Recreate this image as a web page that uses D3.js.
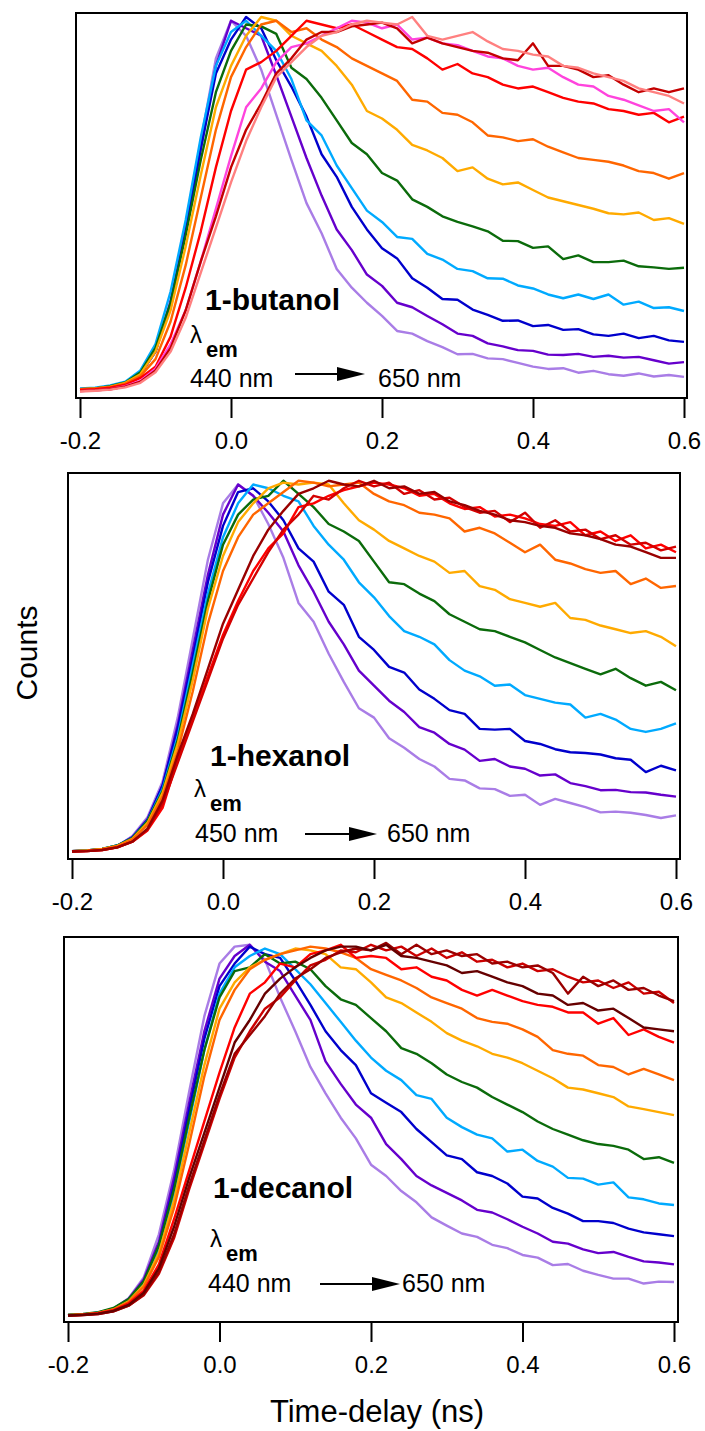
<!DOCTYPE html>
<html>
<head>
<meta charset="utf-8">
<script src="https://cdn.jsdelivr.net/npm/d3@7"></script>
<style>
  body { margin: 0; background: #fff; }
  svg { display: block; font-family: Arial, "Liberation Sans", sans-serif; }
</style>
</head>
<body>
<div id="chart"></div>
<script>
// time axis shared by every trace (ns)
const timeDelay = [-0.20, -0.18, -0.16, -0.14, -0.12, -0.10, -0.08, -0.06, -0.04, -0.02,
  0.00, 0.02, 0.04, 0.06, 0.08, 0.10, 0.12, 0.14, 0.16, 0.18,
  0.20, 0.22, 0.24, 0.26, 0.28, 0.30, 0.32, 0.34, 0.36, 0.38,
  0.40, 0.42, 0.44, 0.46, 0.48, 0.50, 0.52, 0.54, 0.56, 0.58, 0.60]

const xTicks = [-0.2, 0.0, 0.2, 0.4, 0.6]

// normalised counts, short wavelength (fast decay) first, long wavelength last
const butanolCounts = [
  [0.010, 0.010, 0.015, 0.025, 0.050, 0.110, 0.250, 0.450, 0.670, 0.890, 0.990, 0.950, 0.860, 0.740, 0.620, 0.505, 0.425, 0.330, 0.280, 0.240, 0.205, 0.165, 0.158, 0.138, 0.122, 0.103, 0.104, 0.092, 0.090, 0.080, 0.070, 0.064, 0.066, 0.054, 0.059, 0.050, 0.046, 0.052, 0.044, 0.048, 0.043],
  [0.010, 0.012, 0.016, 0.026, 0.050, 0.110, 0.240, 0.440, 0.650, 0.870, 0.990, 0.970, 0.950, 0.845, 0.735, 0.625, 0.525, 0.435, 0.380, 0.315, 0.285, 0.240, 0.228, 0.205, 0.183, 0.158, 0.152, 0.132, 0.124, 0.114, 0.112, 0.102, 0.101, 0.104, 0.096, 0.099, 0.094, 0.096, 0.087, 0.078, 0.082],
  [0.010, 0.012, 0.016, 0.027, 0.050, 0.110, 0.240, 0.430, 0.650, 0.850, 0.940, 1.000, 0.970, 0.885, 0.815, 0.735, 0.635, 0.575, 0.495, 0.435, 0.385, 0.358, 0.305, 0.280, 0.250, 0.248, 0.222, 0.208, 0.192, 0.193, 0.178, 0.181, 0.168, 0.170, 0.156, 0.152, 0.158, 0.146, 0.152, 0.140, 0.136],
  [0.012, 0.014, 0.020, 0.030, 0.060, 0.130, 0.270, 0.460, 0.680, 0.870, 0.960, 0.990, 0.950, 0.910, 0.835, 0.725, 0.685, 0.605, 0.545, 0.485, 0.455, 0.415, 0.410, 0.370, 0.355, 0.330, 0.324, 0.305, 0.304, 0.286, 0.278, 0.262, 0.252, 0.262, 0.250, 0.262, 0.235, 0.243, 0.226, 0.228, 0.218],
  [0.010, 0.012, 0.018, 0.028, 0.055, 0.120, 0.240, 0.420, 0.620, 0.800, 0.910, 0.980, 0.975, 0.955, 0.865, 0.835, 0.785, 0.725, 0.665, 0.635, 0.585, 0.565, 0.515, 0.495, 0.470, 0.455, 0.443, 0.430, 0.405, 0.404, 0.386, 0.390, 0.356, 0.366, 0.348, 0.348, 0.352, 0.337, 0.334, 0.330, 0.333],
  [0.010, 0.012, 0.017, 0.027, 0.050, 0.110, 0.220, 0.390, 0.580, 0.760, 0.870, 0.950, 1.000, 0.990, 0.950, 0.930, 0.910, 0.870, 0.820, 0.750, 0.730, 0.700, 0.660, 0.645, 0.625, 0.590, 0.600, 0.570, 0.555, 0.560, 0.540, 0.520, 0.510, 0.500, 0.490, 0.478, 0.475, 0.480, 0.460, 0.465, 0.450],
  [0.010, 0.012, 0.016, 0.025, 0.045, 0.090, 0.190, 0.340, 0.520, 0.700, 0.840, 0.920, 0.980, 0.990, 0.960, 0.970, 0.940, 0.920, 0.890, 0.870, 0.850, 0.830, 0.780, 0.775, 0.745, 0.740, 0.720, 0.685, 0.680, 0.670, 0.675, 0.655, 0.640, 0.625, 0.620, 0.615, 0.605, 0.590, 0.585, 0.570, 0.585],
  [0.008, 0.010, 0.014, 0.022, 0.040, 0.070, 0.150, 0.280, 0.430, 0.600, 0.750, 0.860, 0.880, 0.910, 0.950, 0.990, 0.980, 0.970, 0.980, 0.960, 0.940, 0.920, 0.915, 0.890, 0.860, 0.875, 0.850, 0.840, 0.820, 0.810, 0.815, 0.800, 0.785, 0.775, 0.770, 0.755, 0.750, 0.740, 0.745, 0.720, 0.735],
  [0.005, 0.007, 0.010, 0.018, 0.032, 0.065, 0.130, 0.220, 0.350, 0.490, 0.630, 0.760, 0.810, 0.880, 0.920, 0.930, 0.950, 0.970, 0.990, 0.985, 0.970, 0.980, 0.940, 0.945, 0.930, 0.925, 0.910, 0.895, 0.890, 0.870, 0.860, 0.865, 0.840, 0.820, 0.815, 0.790, 0.780, 0.765, 0.750, 0.755, 0.720],
  [0.005, 0.007, 0.010, 0.017, 0.030, 0.060, 0.120, 0.220, 0.350, 0.470, 0.600, 0.700, 0.770, 0.850, 0.890, 0.940, 0.960, 0.960, 0.975, 0.980, 0.985, 0.970, 0.930, 0.945, 0.930, 0.920, 0.910, 0.905, 0.890, 0.885, 0.930, 0.870, 0.870, 0.860, 0.840, 0.845, 0.820, 0.800, 0.810, 0.800, 0.810],
  [0.004, 0.006, 0.009, 0.015, 0.027, 0.055, 0.110, 0.200, 0.320, 0.440, 0.560, 0.670, 0.760, 0.840, 0.880, 0.920, 0.950, 0.960, 0.980, 0.990, 0.985, 0.980, 1.000, 0.950, 0.940, 0.950, 0.960, 0.935, 0.915, 0.910, 0.900, 0.895, 0.870, 0.865, 0.850, 0.840, 0.830, 0.810, 0.800, 0.790, 0.770]
]

const hexanolCounts = [
  [0.005, 0.006, 0.010, 0.018, 0.045, 0.095, 0.190, 0.360, 0.570, 0.780, 0.930, 0.980, 0.950, 0.875, 0.785, 0.665, 0.615, 0.530, 0.455, 0.385, 0.360, 0.305, 0.280, 0.250, 0.230, 0.197, 0.193, 0.172, 0.170, 0.152, 0.155, 0.128, 0.144, 0.133, 0.122, 0.108, 0.110, 0.107, 0.101, 0.093, 0.100],
  [0.005, 0.006, 0.010, 0.018, 0.042, 0.090, 0.180, 0.340, 0.540, 0.740, 0.900, 0.980, 0.950, 0.905, 0.855, 0.765, 0.695, 0.615, 0.555, 0.485, 0.445, 0.405, 0.375, 0.335, 0.320, 0.290, 0.275, 0.245, 0.250, 0.230, 0.224, 0.206, 0.209, 0.186, 0.178, 0.167, 0.168, 0.162, 0.161, 0.155, 0.150],
  [0.005, 0.007, 0.011, 0.020, 0.042, 0.088, 0.180, 0.330, 0.520, 0.720, 0.870, 0.960, 0.970, 0.935, 0.885, 0.810, 0.775, 0.695, 0.660, 0.575, 0.540, 0.495, 0.480, 0.435, 0.410, 0.380, 0.370, 0.330, 0.328, 0.330, 0.298, 0.290, 0.276, 0.268, 0.266, 0.262, 0.252, 0.248, 0.215, 0.232, 0.220],
  [0.005, 0.007, 0.011, 0.020, 0.040, 0.085, 0.170, 0.310, 0.500, 0.690, 0.840, 0.930, 0.980, 0.970, 0.950, 0.935, 0.870, 0.820, 0.780, 0.720, 0.680, 0.630, 0.590, 0.575, 0.555, 0.513, 0.485, 0.470, 0.445, 0.448, 0.420, 0.410, 0.400, 0.395, 0.360, 0.370, 0.355, 0.330, 0.322, 0.330, 0.345],
  [0.005, 0.007, 0.011, 0.020, 0.040, 0.085, 0.165, 0.300, 0.480, 0.670, 0.820, 0.900, 0.940, 0.950, 0.990, 0.955, 0.920, 0.875, 0.855, 0.830, 0.775, 0.720, 0.715, 0.690, 0.670, 0.635, 0.615, 0.595, 0.590, 0.575, 0.560, 0.540, 0.520, 0.505, 0.490, 0.475, 0.490, 0.465, 0.445, 0.455, 0.433],
  [0.005, 0.007, 0.011, 0.019, 0.038, 0.080, 0.160, 0.290, 0.460, 0.650, 0.790, 0.880, 0.930, 0.970, 0.985, 0.980, 0.985, 0.980, 0.930, 0.885, 0.860, 0.830, 0.810, 0.790, 0.775, 0.745, 0.750, 0.710, 0.700, 0.675, 0.665, 0.655, 0.665, 0.625, 0.620, 0.605, 0.595, 0.585, 0.590, 0.575, 0.550],
  [0.005, 0.006, 0.010, 0.018, 0.036, 0.075, 0.150, 0.270, 0.430, 0.610, 0.750, 0.840, 0.900, 0.930, 0.960, 0.990, 0.985, 0.975, 0.980, 0.985, 0.955, 0.935, 0.925, 0.905, 0.900, 0.890, 0.855, 0.865, 0.850, 0.825, 0.800, 0.820, 0.780, 0.770, 0.755, 0.745, 0.750, 0.715, 0.730, 0.705, 0.710],
  [0.004, 0.005, 0.008, 0.015, 0.030, 0.060, 0.120, 0.250, 0.360, 0.470, 0.580, 0.670, 0.750, 0.810, 0.850, 0.920, 0.930, 0.950, 0.965, 0.975, 0.985, 0.980, 0.970, 0.950, 0.955, 0.930, 0.915, 0.920, 0.895, 0.900, 0.890, 0.875, 0.870, 0.880, 0.845, 0.855, 0.830, 0.845, 0.810, 0.820, 0.800],
  [0.004, 0.005, 0.008, 0.015, 0.030, 0.062, 0.130, 0.240, 0.350, 0.460, 0.570, 0.660, 0.730, 0.800, 0.860, 0.900, 0.950, 0.940, 0.970, 0.990, 0.975, 0.985, 0.955, 0.965, 0.940, 0.945, 0.920, 0.905, 0.910, 0.880, 0.905, 0.865, 0.885, 0.855, 0.860, 0.835, 0.845, 0.820, 0.825, 0.805, 0.815],
  [0.004, 0.005, 0.008, 0.015, 0.030, 0.065, 0.140, 0.260, 0.370, 0.490, 0.610, 0.700, 0.790, 0.860, 0.910, 0.955, 0.970, 0.990, 0.980, 0.975, 0.990, 0.970, 0.975, 0.955, 0.960, 0.935, 0.925, 0.910, 0.900, 0.885, 0.880, 0.870, 0.865, 0.850, 0.845, 0.835, 0.820, 0.815, 0.800, 0.785, 0.785]
]

const decanolCounts = [
  [0.005, 0.007, 0.010, 0.022, 0.050, 0.105, 0.220, 0.390, 0.600, 0.800, 0.940, 0.985, 0.990, 0.950, 0.850, 0.760, 0.665, 0.595, 0.530, 0.475, 0.405, 0.375, 0.335, 0.305, 0.265, 0.243, 0.222, 0.213, 0.192, 0.183, 0.165, 0.158, 0.138, 0.141, 0.123, 0.112, 0.102, 0.102, 0.089, 0.094, 0.093],
  [0.005, 0.007, 0.011, 0.022, 0.048, 0.100, 0.200, 0.370, 0.570, 0.760, 0.900, 0.960, 0.990, 0.945, 0.920, 0.855, 0.790, 0.680, 0.620, 0.565, 0.530, 0.460, 0.420, 0.375, 0.350, 0.330, 0.310, 0.285, 0.278, 0.260, 0.240, 0.222, 0.200, 0.195, 0.180, 0.170, 0.173, 0.160, 0.148, 0.145, 0.140],
  [0.005, 0.007, 0.011, 0.022, 0.046, 0.095, 0.190, 0.350, 0.550, 0.740, 0.880, 0.940, 0.985, 0.965, 0.955, 0.895, 0.830, 0.760, 0.710, 0.670, 0.595, 0.570, 0.545, 0.500, 0.465, 0.430, 0.420, 0.385, 0.375, 0.355, 0.320, 0.315, 0.290, 0.275, 0.255, 0.255, 0.250, 0.235, 0.225, 0.220, 0.215],
  [0.005, 0.007, 0.012, 0.022, 0.045, 0.090, 0.180, 0.330, 0.520, 0.710, 0.860, 0.930, 0.960, 0.980, 0.965, 0.925, 0.885, 0.835, 0.785, 0.735, 0.690, 0.655, 0.630, 0.590, 0.580, 0.530, 0.505, 0.485, 0.475, 0.440, 0.445, 0.415, 0.400, 0.370, 0.368, 0.352, 0.358, 0.318, 0.313, 0.302, 0.298],
  [0.006, 0.008, 0.013, 0.024, 0.048, 0.095, 0.190, 0.340, 0.530, 0.710, 0.850, 0.920, 0.930, 0.965, 0.940, 0.945, 0.925, 0.880, 0.845, 0.830, 0.795, 0.760, 0.715, 0.700, 0.675, 0.645, 0.625, 0.610, 0.585, 0.565, 0.545, 0.520, 0.500, 0.485, 0.470, 0.460, 0.455, 0.445, 0.420, 0.425, 0.410],
  [0.005, 0.007, 0.011, 0.020, 0.042, 0.085, 0.170, 0.310, 0.490, 0.670, 0.820, 0.890, 0.930, 0.950, 0.965, 0.980, 0.975, 0.965, 0.930, 0.925, 0.890, 0.850, 0.835, 0.810, 0.785, 0.755, 0.735, 0.720, 0.700, 0.690, 0.675, 0.655, 0.635, 0.610, 0.605, 0.595, 0.585, 0.560, 0.553, 0.545, 0.537],
  [0.005, 0.007, 0.011, 0.020, 0.040, 0.080, 0.160, 0.290, 0.460, 0.640, 0.790, 0.870, 0.925, 0.950, 0.965, 0.975, 0.985, 0.980, 0.970, 0.955, 0.925, 0.910, 0.895, 0.875, 0.850, 0.835, 0.820, 0.795, 0.785, 0.780, 0.765, 0.745, 0.710, 0.700, 0.695, 0.670, 0.665, 0.645, 0.660, 0.645, 0.630],
  [0.004, 0.006, 0.010, 0.018, 0.036, 0.070, 0.140, 0.260, 0.390, 0.520, 0.650, 0.770, 0.860, 0.890, 0.940, 0.930, 0.965, 0.975, 0.990, 0.955, 0.960, 0.955, 0.925, 0.930, 0.905, 0.895, 0.870, 0.855, 0.870, 0.855, 0.840, 0.830, 0.825, 0.810, 0.810, 0.780, 0.795, 0.750, 0.765, 0.745, 0.730],
  [0.004, 0.005, 0.008, 0.015, 0.030, 0.058, 0.115, 0.210, 0.340, 0.460, 0.580, 0.690, 0.760, 0.820, 0.850, 0.895, 0.935, 0.950, 0.975, 0.970, 0.990, 0.975, 0.985, 0.960, 0.980, 0.955, 0.970, 0.945, 0.950, 0.930, 0.940, 0.920, 0.925, 0.905, 0.890, 0.895, 0.875, 0.890, 0.860, 0.865, 0.835],
  [0.004, 0.005, 0.008, 0.015, 0.030, 0.060, 0.120, 0.220, 0.350, 0.470, 0.590, 0.700, 0.750, 0.800, 0.860, 0.900, 0.925, 0.955, 0.970, 0.980, 0.975, 0.995, 0.965, 0.990, 0.965, 0.975, 0.960, 0.965, 0.940, 0.945, 0.930, 0.935, 0.915, 0.860, 0.905, 0.880, 0.895, 0.870, 0.875, 0.855, 0.840],
  [0.004, 0.006, 0.009, 0.016, 0.032, 0.065, 0.130, 0.240, 0.370, 0.490, 0.610, 0.730, 0.790, 0.860, 0.900, 0.930, 0.955, 0.975, 0.985, 0.985, 0.975, 0.990, 0.960, 0.955, 0.945, 0.935, 0.915, 0.920, 0.905, 0.890, 0.880, 0.860, 0.855, 0.830, 0.835, 0.815, 0.820, 0.795, 0.770, 0.765, 0.760]
]

// trace colours, same order as the rows above
const butanolColors = ['#a97de6', '#6600cc', '#0000cc', '#00aaff', '#0b6b0b', '#ffaa00', '#ff6600', '#ff0000', '#ff44dd', '#c40000', '#ff8080']
const hexanolColors = ['#a97de6', '#6600cc', '#0000cc', '#00aaff', '#0b6b0b', '#ffaa00', '#ff6600', '#ff0000', '#d40000', '#990000']
const decanolColors = ['#a97de6', '#6600cc', '#0000cc', '#00aaff', '#0b6b0b', '#ffaa00', '#ff6600', '#ff0000', '#cc0000', '#9a0000', '#660000']

// layout of the three stacked panels
const panels = [
  { name: '1-butanol', counts: butanolCounts, colors: butanolColors,
    frame: [76, 687, 13, 398], xr: [80, 684], yr: [393, 17],
    nameAt: [205, 310], lamAt: [190, 343], from: '440 nm', fromAt: [190, 387],
    arrow: [295, 365, 374], to: '650 nm', toAt: [378, 387] },
  { name: '1-hexanol', counts: hexanolCounts, colors: hexanolColors,
    frame: [68, 680, 473, 859], xr: [72, 676], yr: [853, 477],
    nameAt: [210, 766], lamAt: [194, 797], from: '450 nm', fromAt: [195, 842],
    arrow: [305, 377, 834], to: '650 nm', toAt: [387, 842] },
  { name: '1-decanol', counts: decanolCounts, colors: decanolColors,
    frame: [64, 678, 937, 1322], xr: [68, 674], yr: [1317, 941],
    nameAt: [213, 1198], lamAt: [210, 1247], from: '440 nm', fromAt: [208, 1292],
    arrow: [320, 400, 1284], to: '650 nm', toAt: [402, 1292] }
]

const W = 705, H = 1431

const svg = d3.select('#chart').append('svg')
  .attr('width', W).attr('height', H)
  .attr('viewBox', `0 0 ${W} ${H}`)

panels.forEach(p => {
  const x = d3.scaleLinear().domain([-0.2, 0.6]).range(p.xr)
  const y = d3.scaleLinear().domain([0, 1]).range(p.yr)
  const [fx0, fx1, fy0, fy1] = p.frame

  const g = svg.append('g')

  const line = d3.line()
    .x((d, i) => x(timeDelay[i]))
    .y(d => y(d))

  g.selectAll('path.trace')
    .data(p.counts)
    .enter()
    .append('path')
    .attr('class', 'trace')
    .attr('d', d => line(d))
    .attr('fill', 'none')
    .attr('stroke', (d, i) => p.colors[i])
    .attr('stroke-width', 2.4)
    .attr('stroke-linejoin', 'round')

  // box round the plot area
  g.append('rect')
    .attr('x', fx0).attr('y', fy0)
    .attr('width', fx1 - fx0).attr('height', fy1 - fy0)
    .attr('fill', 'none').attr('stroke', '#000').attr('stroke-width', 2)

  const axis = d3.axisBottom(x)
    .tickValues(xTicks)
    .tickSize(20)
    .tickPadding(14)
    .tickFormat(d => d.toFixed(1))

  const ax = g.append('g')
    .attr('transform', `translate(0,${fy1})`)
    .call(axis)
  ax.select('.domain').remove()
  ax.selectAll('.tick line').attr('stroke', '#000').attr('stroke-width', 2)
  ax.selectAll('.tick text')
    .attr('fill', '#000')
    .style('font-family', 'Arial, "Liberation Sans", sans-serif')
    .style('font-size', '24px')

  // solvent name and wavelength range
  g.append('text')
    .attr('x', p.nameAt[0]).attr('y', p.nameAt[1])
    .style('font-size', '30px').style('font-weight', 'bold')
    .text(p.name)

  g.append('text')
    .attr('x', p.lamAt[0]).attr('y', p.lamAt[1])
    .style('font-size', '24px')
    .text('λ')
  g.append('text')
    .attr('x', p.lamAt[0] + 16).attr('y', p.lamAt[1] + 14)
    .style('font-size', '22px').style('font-weight', 'bold')
    .text('em')

  g.append('text')
    .attr('x', p.fromAt[0]).attr('y', p.fromAt[1])
    .style('font-size', '25px')
    .text(p.from)
  g.append('text')
    .attr('x', p.toAt[0]).attr('y', p.toAt[1])
    .style('font-size', '25px')
    .text(p.to)

  const [ax0, ax1, ay] = p.arrow
  g.append('line')
    .attr('x1', ax0).attr('x2', ax1 - 20)
    .attr('y1', ay).attr('y2', ay)
    .attr('stroke', '#000').attr('stroke-width', 2)
  g.append('path')
    .attr('d', `M${ax1 - 28},${ay - 7} L${ax1},${ay} L${ax1 - 28},${ay + 7} Z`)
    .attr('fill', '#000')
})

svg.append('text')
  .attr('transform', 'translate(37,653) rotate(-90)')
  .attr('text-anchor', 'middle')
  .style('font-size', '30px')
  .text('Counts')

svg.append('text')
  .attr('x', 377).attr('y', 1422)
  .attr('text-anchor', 'middle')
  .style('font-size', '31px')
  .text('Time-delay (ns)')
</script>
</body>
</html>
